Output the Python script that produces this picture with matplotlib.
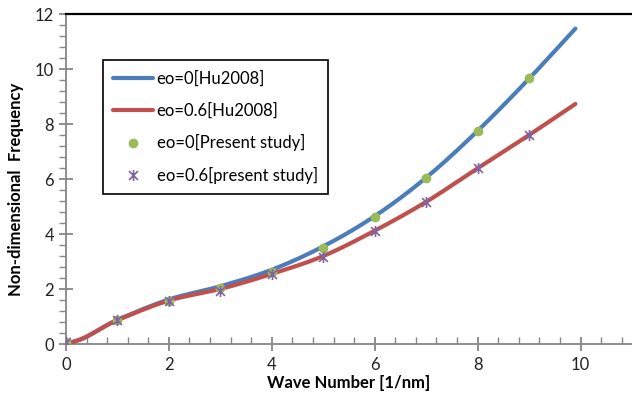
import numpy as np
import matplotlib
matplotlib.use('Agg')
import matplotlib.pyplot as plt
from matplotlib.path import Path
from matplotlib.ticker import MultipleLocator

plt.rcParams['font.family'] = ['Lato', 'DejaVu Sans']

# curve data (Hu2008)
x_curve = [0, 1, 2, 3, 4, 5, 6, 7, 8, 9, 9.9]
hu_eo0 = [0.05, 0.88, 1.62, 2.10, 2.70, 3.55, 4.65, 6.05, 7.75, 9.65, 11.47]
hu_eo06 = [0.05, 0.87, 1.58, 2.00, 2.55, 3.20, 4.12, 5.17, 6.39, 7.60, 8.73]

# present study points
x_pts = [0, 1, 2, 3, 4, 5, 6, 7, 8, 9]
ps_eo0 = [0.07, 0.88, 1.57, 2.02, 2.63, 3.50, 4.63, 6.04, 7.73, 9.67]
ps_eo06 = [0.07, 0.87, 1.55, 1.94, 2.55, 3.17, 4.12, 5.17, 6.39, 7.60]

labels = ['eo=0[Hu2008]', 'eo=0.6[Hu2008]', 'eo=0[Present study]', 'eo=0.6[present study]']


def smooth(xs, ys, n=25):
    # cubic hermite smoothing (like Excel "smoothed line"), flat start
    xs = np.asarray(xs, float)
    ys = np.asarray(ys, float)
    m = np.gradient(ys, xs)
    m[0] = 0.0
    ox, oy = [], []
    t = np.linspace(0, 1, n)
    for i in range(len(xs) - 1):
        h = xs[i + 1] - xs[i]
        h00 = 2 * t**3 - 3 * t**2 + 1
        h10 = t**3 - 2 * t**2 + t
        h01 = -2 * t**3 + 3 * t**2
        h11 = t**3 - t**2
        ox.extend(xs[i] + t * h)
        oy.extend(h00 * ys[i] + h10 * h * m[i] + h01 * ys[i + 1] + h11 * h * m[i + 1])
    return ox, oy


# excel style star marker: X with a vertical bar
star = Path([(-1, -1), (1, 1), (-1, 1), (1, -1), (0, -1.25), (0, 1.25)],
            [Path.MOVETO, Path.LINETO, Path.MOVETO, Path.LINETO, Path.MOVETO, Path.LINETO])

fig = plt.figure(figsize=(6.32, 4.05), dpi=100)
ax = fig.add_axes([0.1044, 0.1506, 0.8956, 0.8148])

bx, by = smooth(x_curve, hu_eo0)
rx, ry = smooth(x_curve, hu_eo06)
ax.plot(bx, by, color='#4A7EBB', lw=3, solid_capstyle='round', label=labels[0], zorder=2)
ax.plot(rx, ry, color='#C0504D', lw=3, solid_capstyle='round', label=labels[1], zorder=3)
ax.plot(x_pts, ps_eo0, 'o', color='#9BBB59', ms=6, label=labels[2], zorder=4)
ax.plot(x_pts, ps_eo06, linestyle='none', marker=star, color='#8064A2', mec='#8064A2',
        ms=8, mew=1.2, label=labels[3], zorder=5)

ax.set_xlim(0, 11)
ax.set_ylim(0, 12)
ax.xaxis.set_major_locator(MultipleLocator(2))
ax.xaxis.set_minor_locator(MultipleLocator(0.4))
ax.yaxis.set_major_locator(MultipleLocator(2))
ax.yaxis.set_minor_locator(MultipleLocator(0.4))

gray = '#868686'
for s in ('left', 'bottom'):
    ax.spines[s].set_color(gray)
    ax.spines[s].set_linewidth(1.3)
ax.spines['right'].set_visible(False)
ax.spines['top'].set_color('black')
ax.spines['top'].set_linewidth(1.6)

ax.tick_params(which='major', direction='inout', length=10, width=1.3, color=gray,
               labelsize=12, labelcolor='#222222')
ax.tick_params(axis='x', which='major', pad=4)
ax.tick_params(axis='y', which='minor', direction='out', length=5, width=1, color=gray)
ax.tick_params(axis='x', which='minor', direction='in', length=5, width=1, color=gray)
ax.tick_params(top=False, right=False, which='both')

ax.set_xlabel('Wave Number [1/nm]', fontsize=12, fontweight='bold', labelpad=2)
ax.set_ylabel('Non-dimensional\u2002Frequency', fontsize=12, fontweight='bold')
ax.yaxis.set_label_coords(-0.075, 0.47)

leg = ax.legend(loc='upper left', bbox_to_anchor=(0.051, 0.885), fontsize=12,
                handlelength=2.4, handletextpad=0.2, labelspacing=0.95,
                borderpad=0.6, fancybox=False, framealpha=1, edgecolor='black')
leg.get_frame().set_linewidth(1.2)

fig.savefig('out.png', dpi=100)
